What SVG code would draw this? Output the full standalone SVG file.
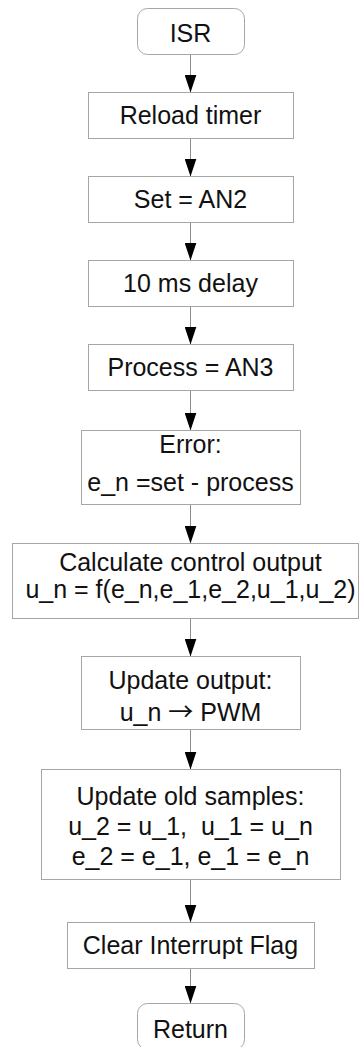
<svg xmlns="http://www.w3.org/2000/svg" width="359" height="1047" viewBox="0 0 359 1047">
<defs>
<marker id="arr" viewBox="0 -6 18 12" refX="18" refY="0" markerWidth="18" markerHeight="12" markerUnits="userSpaceOnUse" orient="auto">
<path d="M0,-6 L18,0 L0,6 z" fill="#000"/>
</marker>
<style>
.box{fill:#fff;stroke:#a6a6a6;stroke-width:1}
.t{font-family:"Liberation Sans",Arial,sans-serif;font-size:25px;fill:#111;text-anchor:middle;white-space:pre}
.c{stroke:#8c8c8c;stroke-width:1;fill:none;marker-end:url(#arr)}
.sym{font-family:"Noto Sans CJK SC","DejaVu Sans",sans-serif}
</style>
</defs>
<rect width="359" height="1047" fill="#fff"/>
<g id="connectors">
<line class="c" x1="190.5" y1="54.5" x2="190.5" y2="92.5"/>
<line class="c" x1="190.5" y1="138.5" x2="190.5" y2="176.5"/>
<line class="c" x1="190.5" y1="222.5" x2="190.5" y2="260.5"/>
<line class="c" x1="190.5" y1="306.5" x2="190.5" y2="344.5"/>
<line class="c" x1="190.5" y1="390.5" x2="190.5" y2="430.5"/>
<line class="c" x1="190.5" y1="504.5" x2="190.5" y2="543.5"/>
<line class="c" x1="190.5" y1="618.5" x2="190.5" y2="656.5"/>
<line class="c" x1="190.5" y1="729.5" x2="190.5" y2="769.5"/>
<line class="c" x1="190.5" y1="879.5" x2="190.5" y2="922.5"/>
<line class="c" x1="190.5" y1="968.5" x2="190.5" y2="1003.5"/>
</g>
<g id="isr">
<rect class="box" x="137.5" y="8.5" width="107" height="46" rx="10"/>
<text class="t" x="190.5" y="42">ISR</text>
</g>
<g id="reload">
<rect class="box" x="88.5" y="92.5" width="205" height="46"/>
<text class="t" x="190.5" y="124">Reload timer</text>
</g>
<g id="set">
<rect class="box" x="88.5" y="176.5" width="205" height="46"/>
<text class="t" x="190.5" y="208">Set = AN2</text>
</g>
<g id="delay">
<rect class="box" x="88.5" y="260.5" width="205" height="46"/>
<text class="t" x="190.5" y="292">10 ms delay</text>
</g>
<g id="process">
<rect class="box" x="88.5" y="344.5" width="205" height="46"/>
<text class="t" x="190.5" y="376">Process = AN3</text>
</g>
<g id="error">
<rect class="box" x="81.5" y="430.5" width="219" height="74"/>
<text class="t" x="190.5" y="453">Error:</text>
<text class="t" x="190.5" y="491">e_n =set - process</text>
</g>
<g id="calc">
<rect class="box" x="12.5" y="543.5" width="346" height="75"/>
<text class="t" x="190.5" y="571">Calculate control output</text>
<text class="t" x="190.5" y="598">u_n = f(e_n,e_1,e_2,u_1,u_2)</text>
</g>
<g id="update">
<rect class="box" x="81.5" y="656.5" width="219" height="73"/>
<text class="t" x="190.5" y="689">Update output:</text>
<text class="t" x="190.5" y="721">u_n <tspan class="sym">→</tspan> PWM</text>
</g>
<g id="old">
<rect class="box" x="41.5" y="769.5" width="299" height="110"/>
<text class="t" x="190.5" y="805">Update old samples:</text>
<text class="t" x="190.5" y="835">u_2 = u_1,  u_1 = u_n</text>
<text class="t" x="190.5" y="865">e_2 = e_1, e_1 = e_n</text>
</g>
<g id="clear">
<rect class="box" x="67.5" y="922.5" width="247" height="46"/>
<text class="t" x="190.5" y="954">Clear Interrupt Flag</text>
</g>
<g id="return">
<rect class="box" x="137.5" y="1003.5" width="107" height="46" rx="10"/>
<text class="t" x="190.5" y="1038">Return</text>
</g>
</svg>
